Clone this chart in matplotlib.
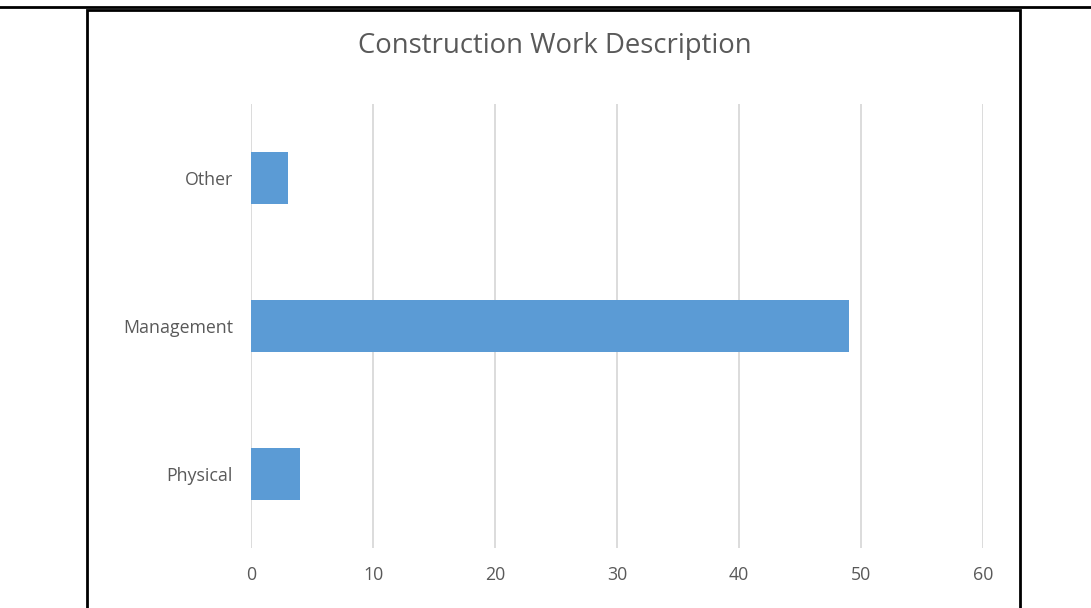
import matplotlib.pyplot as plt
from matplotlib.patches import Rectangle
from matplotlib.lines import Line2D

# Data
categories = ['Physical', 'Management', 'Other']
counts = [4, 49, 3]
x_ticks = [0, 10, 20, 30, 40, 50, 60]

bar_color = '#5B9BD5'
text_color = '#595959'
grid_color = '#D9D9D9'

plt.rcParams['font.family'] = ['Open Sans', 'DejaVu Sans']

fig = plt.figure(figsize=(10.91, 6.08), dpi=100)
fig.patch.set_facecolor('white')

# outer frame around the chart
fig.add_artist(Line2D([0, 1], [0.9893, 0.9893], color='black', lw=2,
                      transform=fig.transFigure))
fig.add_artist(Rectangle((0.0797, -0.05), 0.855, 1.0336, fill=False,
                         edgecolor='black', lw=2, transform=fig.transFigure))

ax = fig.add_axes([0.2301, 0.0987, 0.6709, 0.7303])
ax.barh(range(len(categories)), counts, height=0.35, color=bar_color, zorder=3)

ax.set_xlim(0, 60)
ax.set_ylim(-0.5, 2.5)
ax.set_xticks(x_ticks)
ax.set_yticks(range(len(categories)))
ax.set_yticklabels(categories)
ax.xaxis.grid(True, color=grid_color, lw=1.3, zorder=0)
for s in ax.spines.values():
    s.set_visible(False)
ax.tick_params(axis='both', length=0, labelsize=12.8, labelcolor=text_color)
ax.tick_params(axis='x', pad=13)
ax.tick_params(axis='y', pad=13)

fig.text(0.5085, 0.925, 'Construction Work Description', ha='center',
         va='center', fontsize=19.8, color=text_color)

fig.savefig('out.png', dpi=100)
